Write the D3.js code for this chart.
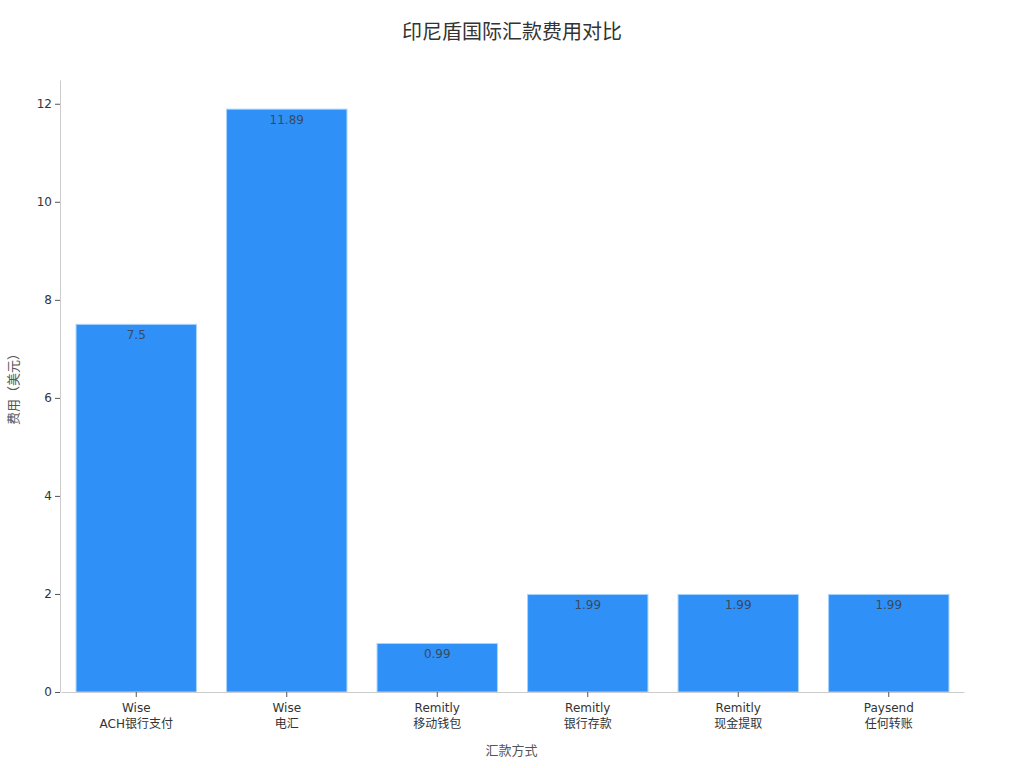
<!DOCTYPE html>
<html>
<head>
<meta charset="utf-8">
<script src="https://cdn.jsdelivr.net/npm/d3@7"></script>
<style>
  body { margin: 0; background: #fff; }
  text { font-family: "DejaVu Sans", "Noto Sans CJK SC", sans-serif; }
</style>
</head>
<body>
<div class="chart"></div>
<script>
const providers = ["Wise", "Wise", "Remitly", "Remitly", "Remitly", "Paysend"];
const methods = ["ACH银行支付", "电汇", "移动钱包", "银行存款", "现金提取", "任何转账"];
const fees = [7.5, 11.89, 0.99, 1.99, 1.99, 1.99];
const yTicks = [0, 2, 4, 6, 8, 10, 12];

const data = fees.map((v, i) => ({ key: i, provider: providers[i], method: methods[i], fee: v }));

const width = 1024, height = 768;
const margin = { top: 80, left: 60, right: 61, bottom: 76 };

const svg = d3.select(".chart").append("svg")
    .attr("width", width)
    .attr("height", height);

const x = d3.scaleBand()
    .domain(data.map(d => d.key))
    .range([margin.left + 1, width - margin.right + 1])
    .paddingInner(0.2)
    .paddingOuter(0.1);

const y = d3.scaleLinear()
    .domain([0, d3.max(fees) * 1.05])
    .range([height - margin.bottom, margin.top]);

// title
svg.append("text")
    .attr("x", width / 2)
    .attr("y", 39)
    .attr("text-anchor", "middle")
    .attr("font-size", 20)
    .attr("fill", "#333")
    .text("印尼盾国际汇款费用对比");

// bars
svg.selectAll(".bar")
    .data(data)
    .enter()
    .append("rect")
    .attr("class", "bar")
    .attr("x", d => x(d.key))
    .attr("y", d => y(d.fee))
    .attr("width", x.bandwidth())
    .attr("height", d => y(0) - y(d.fee))
    .attr("fill", "#2f91f8")
    .attr("stroke", "#a9d3fb")
    .attr("stroke-width", 1);

// value labels
svg.selectAll(".val")
    .data(data)
    .enter()
    .append("text")
    .attr("class", "val")
    .attr("x", d => x(d.key) + x.bandwidth() / 2)
    .attr("y", d => y(d.fee) + 15)
    .attr("text-anchor", "middle")
    .attr("font-size", 12)
    .attr("fill", "#3a4a5c")
    .text(d => d.fee);

// y axis
const yAxis = svg.append("g")
    .attr("transform", `translate(${margin.left},0)`)
    .call(d3.axisLeft(y).tickValues(yTicks).tickSize(5).tickSizeOuter(0));
yAxis.select(".domain").attr("stroke", "#ccc");
yAxis.selectAll(".tick line").attr("stroke", "#555");
yAxis.selectAll(".tick text").attr("font-size", 12).attr("fill", "#333")
    .attr("font-family", "DejaVu Sans");

// x axis
const xAxis = svg.append("g")
    .attr("transform", `translate(0,${height - margin.bottom})`)
    .call(d3.axisBottom(x).tickSize(5).tickSizeOuter(0).tickFormat(""));
xAxis.select(".domain").attr("stroke", "#ccc");
xAxis.selectAll(".tick line").attr("stroke", "#555");
xAxis.selectAll(".tick").each(function (k) {
    const t = d3.select(this).append("text")
        .attr("text-anchor", "middle")
        .attr("font-size", 12)
        .attr("fill", "#333");
    t.append("tspan").attr("x", 0).attr("y", 20).text(providers[k]);
    t.append("tspan").attr("x", 0).attr("y", 36).text(methods[k]);
});

// axis titles
svg.append("text")
    .attr("x", (margin.left + width - margin.right) / 2)
    .attr("y", 755)
    .attr("text-anchor", "middle")
    .attr("font-size", 13)
    .attr("fill", "#555")
    .text("汇款方式");

svg.append("text")
    .attr("transform", `translate(18,${(margin.top + height - margin.bottom) / 2}) rotate(-90)`)
    .attr("text-anchor", "middle")
    .attr("font-size", 13)
    .attr("fill", "#555")
    .text("费用（美元）");
</script>
</body>
</html>
